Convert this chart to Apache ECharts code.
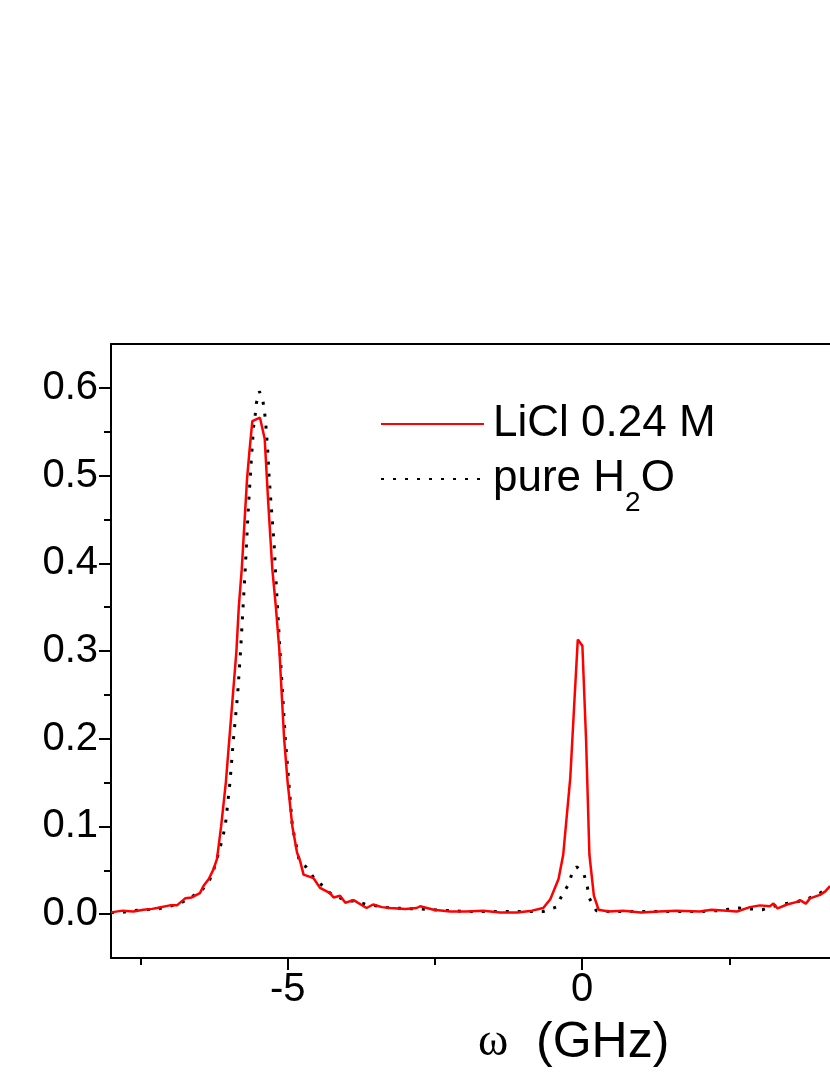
<!DOCTYPE html>
<html>
<head>
<meta charset="utf-8">
<script src="https://cdn.jsdelivr.net/npm/echarts@6/dist/echarts.min.js"></script>
<style>
  html, body { margin: 0; padding: 0; background: #fff; }
  #main { width: 830px; height: 1075px; }
</style>
</head>
<body>
<div id="main"></div>
<script>
// LiCl 0.24 M (red solid)
var liclX = [-8.0, -7.8, -7.62, -7.45, -7.3, -7.22, -7.0, -6.88, -6.74, -6.63, -6.49, -6.43, -6.34, -6.26, -6.2,
  -6.13, -6.05, -5.99, -5.93, -5.87, -5.83, -5.78, -5.69, -5.65, -5.6, -5.47, -5.39, -5.33, -5.26, -5.2, -5.14,
  -5.06, -5.0, -4.92, -4.84, -4.79, -4.73, -4.56, -4.45, -4.28, -4.22, -4.11, -4.02, -3.88, -3.66, -3.55, -3.4,
  -3.26, -3.0, -2.81, -2.75, -2.52, -2.24, -1.96, -1.68, -1.39, -1.1, -0.85, -0.66, -0.54, -0.4, -0.32, -0.2,
  -0.136, -0.073, 0.005, 0.068, 0.124, 0.2, 0.28, 0.45, 0.7, 1.0, 1.3, 1.6, 2.0, 2.2, 2.46, 2.63, 2.85, 3.02,
  3.19, 3.25, 3.32, 3.48, 3.65, 3.7, 3.8, 3.87, 4.04, 4.13, 4.21];
var liclY = [0.002, 0.004, 0.003, 0.005, 0.006, 0.007, 0.01, 0.01, 0.018, 0.019, 0.024, 0.032, 0.04, 0.051, 0.063,
  0.1, 0.15, 0.2, 0.25, 0.3, 0.35, 0.393, 0.496, 0.527, 0.562, 0.566, 0.542, 0.469, 0.393, 0.35, 0.3,
  0.2, 0.15, 0.1, 0.07, 0.061, 0.045, 0.041, 0.03, 0.024, 0.019, 0.021, 0.013, 0.016, 0.007, 0.011, 0.008,
  0.007, 0.006, 0.007, 0.009, 0.005, 0.003, 0.003, 0.004, 0.002, 0.002, 0.004, 0.007, 0.017, 0.04, 0.068, 0.156,
  0.236, 0.313, 0.306, 0.198, 0.068, 0.021, 0.005, 0.003, 0.004, 0.002, 0.003, 0.004, 0.003, 0.005, 0.004, 0.003, 0.008, 0.01,
  0.009, 0.012, 0.0065, 0.011, 0.014, 0.016, 0.012, 0.018, 0.022, 0.026, 0.032];

// pure H2O (black dotted)
var waterX = [-8.0, -7.82, -7.62, -7.43, -7.2, -7.0, -6.83, -6.65, -6.46, -6.33, -6.25, -6.15, -6.06, -5.98,
  -5.92, -5.85, -5.8, -5.72, -5.67, -5.62, -5.58, -5.55, -5.53, -5.48, -5.45, -5.42, -5.39, -5.37, -5.34,
  -5.32, -5.29, -5.26, -5.23, -5.21, -5.13, -5.04, -4.92, -4.8, -4.69, -4.56, -4.45, -4.28, -4.0, -3.87,
  -3.66, -3.26, -2.8, -2.24, -2.0, -1.5, -1.0, -0.66, -0.44, -0.345, -0.23, -0.165, -0.09, 0.034, 0.09,
  0.124, 0.24, 0.5, 1.0, 1.5, 2.0, 2.3, 2.65, 2.85, 3.06, 3.25, 3.45, 3.65, 3.85, 4.04, 4.21];
var waterY = [0.002, 0.002, 0.004, 0.005, 0.006, 0.009, 0.012, 0.019, 0.027, 0.038, 0.052, 0.075, 0.1, 0.15,
  0.2, 0.25, 0.3, 0.394, 0.46, 0.515, 0.555, 0.57, 0.583, 0.596, 0.598, 0.585, 0.571, 0.557, 0.53,
  0.504, 0.475, 0.448, 0.422, 0.395, 0.3, 0.2, 0.1, 0.06, 0.054, 0.042, 0.035, 0.024, 0.015, 0.015,
  0.011, 0.007, 0.006, 0.004, 0.003, 0.003, 0.003, 0.003, 0.008, 0.021, 0.034, 0.048, 0.054, 0.045, 0.031,
  0.018, 0.004, 0.003, 0.003, 0.003, 0.003, 0.004, 0.007, 0.006, 0.005, 0.009, 0.012, 0.014, 0.018, 0.024, 0.031];

var xMajorTicks = [-5, 0];
var xMinorTicks = [-7.5, -2.5, 2.5];
var yMajorTicks = [0, 0.1, 0.2, 0.3, 0.4, 0.5, 0.6];
var yMinorTicks = [0.05, 0.15, 0.25, 0.35, 0.45, 0.55];
var seriesNames = ['LiCl 0.24 M', 'pure H2O'];

function zip(xs, ys) {
  return xs.map(function (x, i) { return [x, ys[i]]; });
}

var myChart = echarts.init(document.getElementById('main'));
var font = 'Liberation Sans, Arial, sans-serif';
var black = '#000';

var xBase = { type: 'value', min: -8, max: 4.21, splitLine: { show: false } };
var yBase = { type: 'value', min: -0.05, max: 0.65, splitLine: { show: false } };

var option = {
  animation: false,
  backgroundColor: '#fff',
  grid: { left: 111, top: 344, right: 0, bottom: 117, containLabel: false },
  legend: {
    orient: 'vertical',
    left: 380,
    top: 399,
    padding: 0,
    itemWidth: 103,
    itemHeight: 14,
    itemGap: 5,
    data: seriesNames,
    // hide the marker dot, keep only the line
    itemStyle: { opacity: 0, borderWidth: 0 },
    formatter: function (name) {
      return name === 'pure H2O' ? 'pure H{sub|2}O' : name;
    },
    textStyle: {
      fontFamily: font,
      fontSize: 44,
      lineHeight: 50,
      color: black,
      padding: [0, 0, 0, 4],
      rich: {
        sub: { fontFamily: font, fontSize: 28, lineHeight: 28, verticalAlign: 'bottom', padding: [0, 0, -13, 0], color: black }
      }
    }
  },
  xAxis: [
    Object.assign({}, xBase, {
      position: 'bottom',
      axisLine: { show: true, onZero: false, lineStyle: { color: black, width: 2 } },
      axisTick: { show: true, inside: false, length: 12, customValues: xMajorTicks, lineStyle: { color: black, width: 2 } },
      axisLabel: { show: true, customValues: xMajorTicks, margin: 12, fontFamily: font, fontSize: 40, color: black }
    }),
    Object.assign({}, xBase, {
      position: 'bottom',
      axisLine: { show: false, onZero: false },
      axisTick: { show: true, inside: false, length: 7, customValues: xMinorTicks, lineStyle: { color: black, width: 2 } },
      axisLabel: { show: false }
    }),
    Object.assign({}, xBase, {
      position: 'top',
      axisLine: { show: true, onZero: false, lineStyle: { color: black, width: 2 } },
      axisTick: { show: false },
      axisLabel: { show: false }
    })
  ],
  yAxis: [
    Object.assign({}, yBase, {
      position: 'left',
      axisLine: { show: true, onZero: false, lineStyle: { color: black, width: 2 } },
      axisTick: { show: true, inside: false, length: 12, customValues: yMajorTicks, lineStyle: { color: black, width: 2 } },
      axisLabel: {
        show: true, customValues: yMajorTicks, margin: 13, fontFamily: font, fontSize: 40, color: black,
        formatter: function (v) { return v.toFixed(1); }
      }
    }),
    Object.assign({}, yBase, {
      position: 'left',
      axisLine: { show: false, onZero: false },
      axisTick: { show: true, inside: false, length: 7, customValues: yMinorTicks, lineStyle: { color: black, width: 2 } },
      axisLabel: { show: false }
    })
  ],
  series: [
    {
      name: seriesNames[0],
      type: 'line',
      data: zip(liclX, liclY),
      showSymbol: false,
      symbol: 'none',
      clip: true,
      lineStyle: { color: '#ff0000', width: 2.5 },
      itemStyle: { color: '#ff0000' },
      z: 3
    },
    {
      name: seriesNames[1],
      type: 'line',
      data: zip(waterX, waterY),
      showSymbol: false,
      symbol: 'none',
      clip: true,
      lineStyle: { color: black, width: 3, type: [3, 9] },
      itemStyle: { color: black },
      z: 2
    }
  ],
  graphic: [
    {
      type: 'text',
      left: 478,
      top: 1018,
      style: {
        text: '{w|ω}  (GHz)',
        fontFamily: font,
        fontSize: 50,
        fill: black,
        rich: {
          w: { fontFamily: 'Liberation Serif, DejaVu Serif, serif', fontSize: 46, fill: black }
        }
      }
    }
  ]
};

myChart.setOption(option);
</script>
</body>
</html>
